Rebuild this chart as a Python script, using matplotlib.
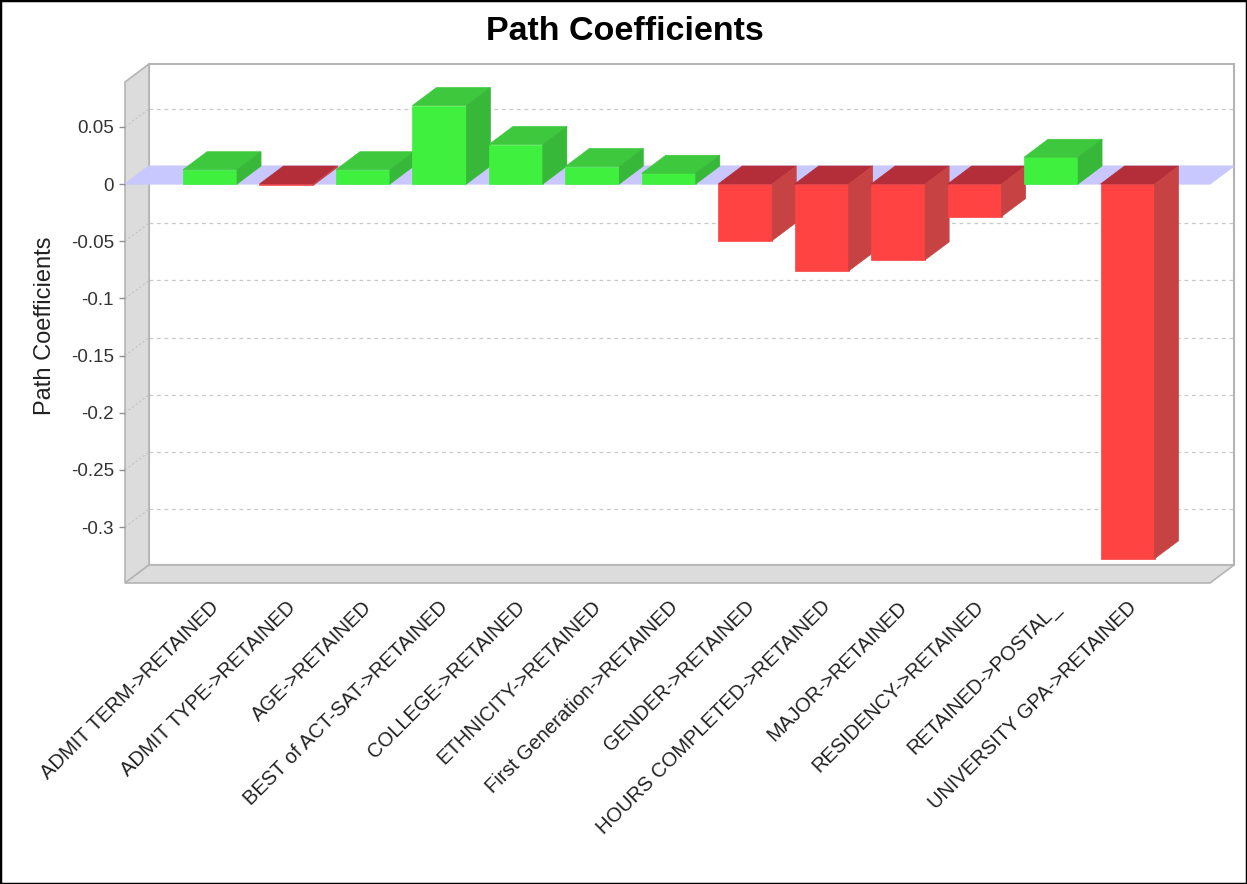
import matplotlib
matplotlib.use("Agg")
import matplotlib.pyplot as plt
from matplotlib.patches import Polygon, Rectangle
import matplotlib.transforms as mtransforms

# data
categories = [
    "ADMIT TERM->RETAINED", "ADMIT TYPE->RETAINED", "AGE->RETAINED",
    "BEST of ACT-SAT->RETAINED", "COLLEGE->RETAINED", "ETHNICITY->RETAINED",
    "First Generation->RETAINED", "GENDER->RETAINED",
    "HOURS COMPLETED->RETAINED", "MAJOR->RETAINED", "RESIDENCY->RETAINED",
    "RETAINED->POSTAL_", "UNIVERSITY GPA->RETAINED",
]
coefficients = [0.0125, -0.001, 0.0125, 0.0686, 0.0345, 0.0153, 0.0094,
                -0.0494, -0.076, -0.0663, -0.0284, 0.0234, -0.3276]
tick_values = [0.05, 0, -0.05, -0.1, -0.15, -0.2, -0.25, -0.3]
tick_labels = ["0.05", "0", "-0.05", "-0.1", "-0.15", "-0.2", "-0.25", "-0.3"]

plt.rcParams['font.family'] = ['Liberation Sans', 'DejaVu Sans']

W, H = 1247, 884
left_px, right_px, top_px, bot_px = 125, 1210, 82, 583
depth_x, depth_y = 24, 18  # 3d offset in pixels

fig = plt.figure(figsize=(W / 100, H / 100), dpi=100)
ax = fig.add_axes([left_px / W, 1 - bot_px / H,
                   (right_px - left_px) / W, (bot_px - top_px) / H])
x0, x1 = -1.112, 13.079
y0, y1 = -0.3488, 0.0892
ax.set_xlim(x0, x1)
ax.set_ylim(y0, y1)
for s in ax.spines.values():
    s.set_visible(False)

ddx = depth_x * (x1 - x0) / (right_px - left_px)
ddy = depth_y * (y1 - y0) / (bot_px - top_px)

def poly(pts, fc, ec=None, z=1, lw=0.8):
    p = Polygon(pts, closed=True, facecolor=fc, edgecolor=ec if ec else fc,
                linewidth=lw, zorder=z, clip_on=False)
    ax.add_patch(p)

# walls
wall = '#dcdcdc'
wall_edge = '#b4b4b4'
poly([(x0 + ddx, y0 + ddy), (x1 + ddx, y0 + ddy), (x1 + ddx, y1 + ddy),
      (x0 + ddx, y1 + ddy)], 'white', wall_edge, z=0.5, lw=1.5)
poly([(x0, y0), (x0, y1), (x0 + ddx, y1 + ddy), (x0 + ddx, y0 + ddy)],
     wall, wall_edge, z=0.7, lw=1.2)
poly([(x0, y0), (x1, y0), (x1 + ddx, y0 + ddy), (x0 + ddx, y0 + ddy)],
     wall, wall_edge, z=0.7, lw=1.2)

# gridlines on back wall, plus faint lines across the left wall
for t in tick_values:
    ax.plot([x0 + ddx, x1 + ddx], [t + ddy, t + ddy], color='#c8c8c8',
            lw=0.9, ls=(0, (3, 3)), zorder=0.6, clip_on=False)
    ax.plot([x0, x0 + ddx], [t, t + ddy], color='#c4c4c4', lw=0.8,
            ls=(0, (2, 2)), zorder=0.75, clip_on=False)

# zero band
poly([(x0, 0), (x1, 0), (x1 + ddx, ddy), (x0 + ddx, ddy)], '#c8c8ff',
     '#c8c8ff', z=1)

bw = 54 * (x1 - x0) / (right_px - left_px)
green = ('#3ff03f', '#3ec83e', '#38b838')
red = ('#ff4242', '#b42e3a', '#c74242')
for i, v in enumerate(coefficients):
    front, top, side = green if v >= 0 else red
    l, r = i - bw / 2, i + bw / 2
    lo, hi = min(v, 0), max(v, 0)
    z = 2 + i * 0.01
    poly([(l, lo), (r, lo), (r, hi), (l, hi)], front, z=z, lw=0.5)
    poly([(l, hi), (r, hi), (r + ddx, hi + ddy), (l + ddx, hi + ddy)], top,
         z=z, lw=0.5)
    poly([(r, lo), (r + ddx, lo + ddy), (r + ddx, hi + ddy), (r, hi)], side,
         z=z, lw=0.5)

ax.set_yticks(tick_values)
ax.set_yticklabels(tick_labels, fontsize=13.5, color='#333333')
ax.tick_params(axis='y', length=4, width=1, color='#909090', pad=4)
ax.set_xticks([])

lab_tr = mtransforms.offset_copy(ax.transData, fig=fig, x=6, y=-21,
                                 units='dots')
for i, c in enumerate(categories):
    ax.text(i, y0, c, transform=lab_tr, rotation=45, rotation_mode='anchor',
            ha='right', va='center', fontsize=14.5, color='#222222')

fig.text(625 / W, 1 - 32 / H, "Path Coefficients", ha='center', va='center',
         fontsize=24.5, fontweight='bold')
fig.text(45 / W, 1 - 326 / H, "Path Coefficients", rotation=90, ha='center',
         va='center', fontsize=17, color='#222222')

fig.patches.append(Rectangle((0, 0), 1, 1, transform=fig.transFigure,
                             fill=False, edgecolor='black', linewidth=2.5))

fig.savefig("out.png", dpi=100, facecolor='white')
